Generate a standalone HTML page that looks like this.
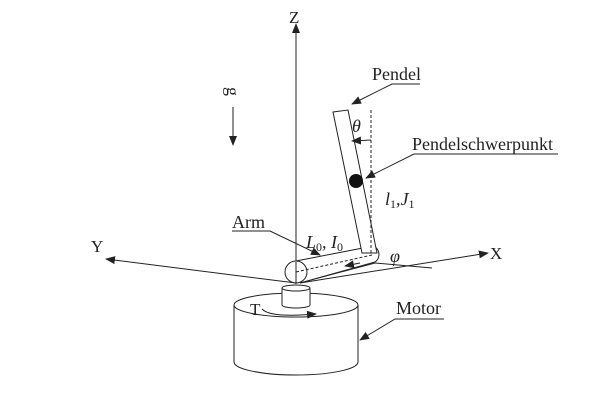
<!DOCTYPE html>
<html><head><meta charset="utf-8"><style>body{margin:0;background:#fff}svg{display:block}text{font-family:"Liberation Serif",serif;fill:#222}</style></head><body>
<svg width="600" height="400" viewBox="0 0 600 400" xmlns="http://www.w3.org/2000/svg">
<defs><marker id="a" markerWidth="10" markerHeight="8" refX="9" refY="4" orient="auto" markerUnits="userSpaceOnUse"><path d="M0,0 L10,4 L0,8 z" fill="#222"/></marker></defs>
<g stroke="#222" stroke-width="1" fill="none">
<line x1="296" y1="284" x2="296" y2="24" marker-end="url(#a)"/>
<line x1="296" y1="283" x2="106" y2="259" marker-end="url(#a)"/>
<line x1="300" y1="283" x2="488" y2="253" marker-end="url(#a)"/>
<line x1="303" y1="282" x2="375" y2="263"/>
<line x1="375" y1="263" x2="432" y2="268"/>
<path d="M234,305 L234,362 A62,13 0 0 0 358,362 L358,305" fill="#fff"/>
<ellipse cx="296" cy="305" rx="62" ry="12" fill="#fff"/>
<path d="M282,288 L282,305 A14,3 0 0 0 310,305 L310,288" fill="#fff"/>
<ellipse cx="296" cy="288" rx="14" ry="3" fill="#fff"/>
<path d="M262,309 Q270,318 316,314" marker-end="url(#a)"/>
<path d="M296,261 L368,247 A7,8 0 0 1 375,262 L300,283" fill="#fff"/>
<circle cx="296" cy="272" r="11" fill="#fff"/>
<line x1="296" y1="272" x2="372" y2="255" stroke-dasharray="3,2"/>
<line x1="360" y1="263" x2="345" y2="266" marker-end="url(#a)"/>
<line x1="296" y1="262" x2="296" y2="284"/>
<polygon points="333,112 348,110 377,253 362,253" fill="#fff"/>
<line x1="371" y1="110" x2="371" y2="253" stroke-dasharray="3,2"/>
<line x1="371" y1="140" x2="352" y2="141" marker-end="url(#a)"/>
<line x1="233" y1="107" x2="233" y2="145" marker-end="url(#a)"/>
<polyline points="420,84 392,84 352,104" marker-end="url(#a)"/>
<polyline points="558,154 414,154 366,178" marker-end="url(#a)"/>
<polyline points="232,231 270,231 320,255" marker-end="url(#a)"/>
<polyline points="444,319 395,319 360,340" marker-end="url(#a)"/>
</g>
<circle cx="356" cy="181" r="7" fill="#111"/>
<text x="289" y="23" font-size="17">Z</text>
<text x="91" y="252" font-size="17">Y</text>
<text x="490" y="259" font-size="17">X</text>
<text x="0" y="0" font-size="18" transform="translate(227,87) rotate(90)">g</text>
<text x="372" y="80" font-size="18">Pendel</text>
<text x="412" y="150" font-size="18">Pendelschwerpunkt</text>
<text x="352" y="132" font-size="18" font-style="italic">θ</text>
<text x="385" y="205" font-size="18" font-style="italic">l<tspan font-size="12" dy="3" font-style="normal">1</tspan><tspan dy="-3">,J</tspan><tspan font-size="12" dy="3" font-style="normal">1</tspan></text>
<text x="306" y="248" font-size="18" font-style="italic">L<tspan font-size="12" dy="3" font-style="normal">0</tspan><tspan dy="-3">, I</tspan><tspan font-size="12" dy="3" font-style="normal">0</tspan></text>
<text x="232" y="228" font-size="18">Arm</text>
<text x="390" y="262" font-size="18" font-style="italic">φ</text>
<text x="250" y="315" font-size="17">T</text>
<text x="396" y="314" font-size="18">Motor</text>
</svg>
</body></html>
